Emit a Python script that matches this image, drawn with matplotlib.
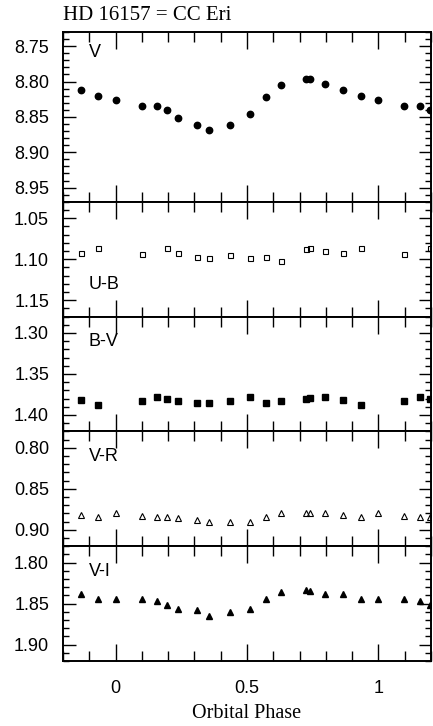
import numpy as np
import matplotlib
matplotlib.use("Agg")
import matplotlib.pyplot as plt
from matplotlib.ticker import MultipleLocator, FormatStrFormatter

# orbital phase of each observation and the photometry in each band
phase = np.array([0.000, 0.099, 0.158, 0.196, 0.237, 0.309, 0.357, 0.437,
                  0.512, 0.573, 0.630, 0.724, 0.741, 0.798, 0.867, 0.934])
v_mag = np.array([8.826, 8.835, 8.834, 8.840, 8.851, 8.861, 8.869, 8.862,
                  8.846, 8.822, 8.805, 8.796, 8.796, 8.803, 8.812, 8.821])
u_b = np.array([np.nan, 1.094, np.nan, 1.087, 1.093, 1.097, 1.099, 1.095,
                1.099, 1.098, 1.102, 1.088, 1.087, 1.090, 1.092, 1.087])
b_v = np.array([np.nan, 1.383, 1.378, 1.380, 1.383, 1.385, 1.385, 1.383,
                1.378, 1.385, 1.383, 1.380, 1.379, 1.378, 1.382, 1.388])
v_r = np.array([0.880, 0.883, 0.885, 0.885, 0.886, 0.888, 0.890, 0.891,
                0.891, 0.885, 0.880, 0.879, 0.879, 0.879, 0.882, 0.884])
v_i = np.array([1.844, 1.844, 1.847, 1.852, 1.856, 1.858, 1.865, 1.860,
                1.856, 1.844, 1.836, 1.833, 1.835, 1.838, 1.838, 1.844])

labels = ["V", "U-B", "B-V", "V-R", "V-I"]
ranges = [(8.97, 8.73), (1.17, 1.03), (1.42, 1.28), (0.92, 0.78), (1.92, 1.78)]
series = [v_mag, u_b, b_v, v_r, v_i]
styles = [
    dict(marker="o", ms=4.6, mfc="black", mec="black"),
    dict(marker="s", ms=3.6, mfc="none", mec="black", mew=0.8),
    dict(marker="s", ms=4.0, mfc="black", mec="black"),
    dict(marker="^", ms=4.2, mfc="none", mec="black", mew=0.8),
    dict(marker="^", ms=4.2, mfc="black", mec="black"),
]
label_y = [0.88, 0.28, 0.78, 0.78, 0.78]

SANS = ["Liberation Sans Narrow", "Liberation Sans"]
SERIF = ["Liberation Serif", "DejaVu Serif"]
XMIN, XMAX = -0.2, 1.2

fig = plt.figure(figsize=(4.33, 7.26), dpi=100)
gs = fig.add_gridspec(5, 1, height_ratios=[170, 115, 115, 115, 115],
                      left=63 / 433, right=431 / 433,
                      top=1 - 32 / 726, bottom=1 - 661 / 726, hspace=0)

axes = []
for i in range(5):
    ax = fig.add_subplot(gs[i])
    y = series[i]
    # repeat the cycle one phase either side, keeping only what falls in range
    for shift in (-1, 0, 1):
        x = phase + shift
        keep = (x >= XMIN) & (x <= XMAX)
        ax.plot(x[keep], y[keep], ls="none", **styles[i])
    ax.set_xlim(XMIN, XMAX)
    ax.set_ylim(*ranges[i])
    ax.xaxis.set_major_locator(MultipleLocator(0.5))
    ax.xaxis.set_minor_locator(MultipleLocator(0.1))
    ax.yaxis.set_major_locator(MultipleLocator(0.05))
    ax.yaxis.set_minor_locator(MultipleLocator(0.01))
    ax.yaxis.set_major_formatter(FormatStrFormatter("%.2f"))
    ax.tick_params(which="both", direction="in", top=True, right=True,
                   width=1.0, labelsize=13, pad=10)
    ax.tick_params(axis="x", which="major", length=12)
    ax.tick_params(axis="x", which="minor", length=7)
    ax.tick_params(axis="y", which="major", length=9)
    ax.tick_params(axis="y", which="minor", length=4)
    for sp in ax.spines.values():
        sp.set_linewidth(1.4)
    for t in ax.get_yticklabels() + ax.get_xticklabels():
        t.set_family(SANS)
    ax.text(0.07, label_y[i], labels[i], transform=ax.transAxes,
            ha="left", va="center", fontsize=13, family=SANS)
    if i < 4:
        ax.tick_params(axis="x", labelbottom=False)
    axes.append(ax)

axes[-1].xaxis.set_major_formatter(FormatStrFormatter("%g"))
axes[-1].tick_params(axis="x", pad=14)
for t in axes[-1].get_xticklabels():
    t.set_family(SANS)
axes[-1].set_xlabel("Orbital Phase", fontsize=14.5, family=SERIF, labelpad=5)

fig.text(63 / 433, 1 - 15 / 726, "HD 16157 = CC Eri", ha="left", va="center",
         fontsize=15, family=SERIF)

fig.savefig("out.png", dpi=100)
